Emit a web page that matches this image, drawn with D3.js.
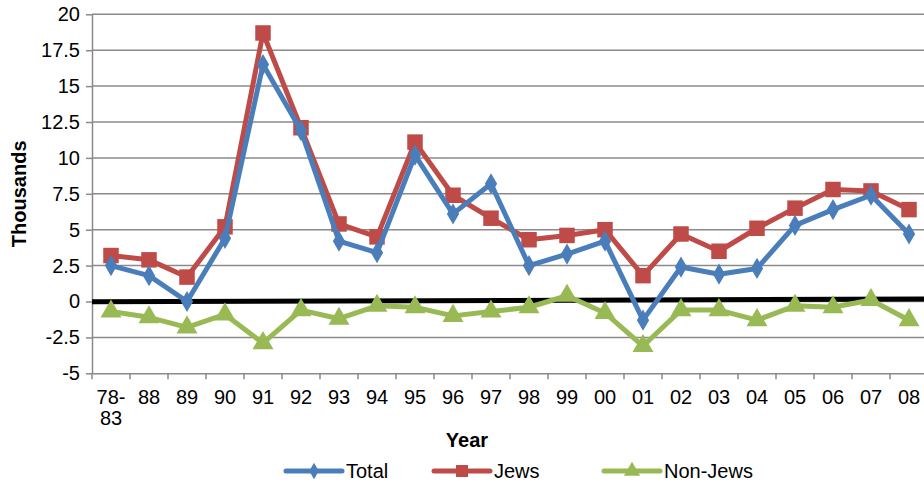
<!DOCTYPE html>
<html>
<head>
<meta charset="utf-8">
<script src="https://cdn.jsdelivr.net/npm/d3@7"></script>
<style>
  body { margin: 0; background: #fff; }
  svg { display: block; font-family: "Liberation Sans", Arial, sans-serif; }
</style>
</head>
<body>
<div id="chart"></div>
<script>
const years = ['78-83', '88', '89', '90', '91', '92', '93', '94', '95', '96', '97',
  '98', '99', '00', '01', '02', '03', '04', '05', '06', '07', '08'];
const total = [2.5, 1.8, 0.0, 4.4, 16.5, 11.9, 4.2, 3.4, 10.2, 6.1, 8.2,
  2.5, 3.3, 4.2, -1.3, 2.4, 1.9, 2.3, 5.3, 6.4, 7.4, 4.7];
const jews = [3.2, 2.9, 1.7, 5.2, 18.7, 12.1, 5.4, 4.5, 11.1, 7.4, 5.8,
  4.3, 4.6, 5.0, 1.8, 4.7, 3.5, 5.1, 6.5, 7.8, 7.7, 6.4];
const nonJews = [-0.7, -1.1, -1.8, -0.9, -2.9, -0.6, -1.2, -0.3, -0.4, -1.0, -0.7,
  -0.4, 0.4, -0.8, -3.1, -0.6, -0.6, -1.3, -0.3, -0.4, 0.1, -1.3];
const yTicks = [-5, -2.5, 0, 2.5, 5, 7.5, 10, 12.5, 15, 17.5, 20];
const zeroLine = [-0.02, 0.17]; // hand-drawn baseline, slightly tilted

const series = [
  { name: 'Total', values: total, color: '#4a7ebb', symbol: d3.symbolDiamond, size: 130 },
  { name: 'Jews', values: jews, color: '#be4b48', symbol: d3.symbolSquare, size: 240 },
  { name: 'Non-Jews', values: nonJews, color: '#98b954', symbol: d3.symbolTriangle, size: 190 }
];

const W = 924, H = 483;
const plotLeft = 92, plotTop = 14.3, plotBottom = 373.3;
const font = '"Liberation Sans", Arial, sans-serif';

const svg = d3.select('#chart').append('svg')
  .attr('width', W).attr('height', H);

const x = d3.scaleBand().domain(years).range([plotLeft, plotLeft + 38 * years.length]).padding(0);
const y = d3.scaleLinear().domain([-5, 20]).range([plotBottom, plotTop]);
const cx = d => x(d) + x.bandwidth() / 2;

// gridlines
svg.append('g').selectAll('line')
  .data(yTicks.filter(t => t !== -5))
  .join('line')
  .attr('x1', plotLeft).attr('x2', W)
  .attr('y1', d => y(d)).attr('y2', d => y(d))
  .attr('stroke', '#8a8a8a').attr('stroke-width', 1.5);

// y axis
const yAxis = svg.append('g')
  .attr('transform', `translate(${plotLeft},0)`)
  .call(d3.axisLeft(y).tickValues(yTicks).tickSize(6).tickSizeOuter(0)
    .tickFormat(d => String(d)));
yAxis.select('.domain').attr('stroke', '#8a8a8a').attr('stroke-width', 1.5);
yAxis.selectAll('.tick line').attr('stroke', '#8a8a8a').attr('stroke-width', 1.5);
yAxis.selectAll('.tick text')
  .attr('x', -12).attr('font-size', 20).attr('fill', '#000')
  .attr('font-family', font);

// x axis
const xAxis = svg.append('g')
  .attr('transform', `translate(0,${plotBottom})`)
  .call(d3.axisBottom(x).tickSize(0).tickSizeOuter(0));
xAxis.select('.domain').attr('stroke', '#8a8a8a').attr('stroke-width', 1.5);
xAxis.selectAll('.tick text').remove();
xAxis.selectAll('.tick').each(function (d) {
  const parts = d.includes('-') ? [d.split('-')[0] + '-', d.split('-')[1]] : [d];
  const t = d3.select(this).append('text')
    .attr('text-anchor', 'middle').attr('fill', '#000')
    .attr('font-size', 20).attr('font-family', font);
  parts.forEach((p, i) => t.append('tspan').attr('x', 0).attr('y', 31 + i * 21).text(p));
});
// category separator ticks
svg.append('g').selectAll('line')
  .data(years)
  .join('line')
  .attr('x1', d => x(d)).attr('x2', d => x(d))
  .attr('y1', plotBottom).attr('y2', plotBottom + 6)
  .attr('stroke', '#8a8a8a').attr('stroke-width', 1.5);

// thick zero line
svg.append('line')
  .attr('x1', plotLeft).attr('x2', W)
  .attr('y1', y(zeroLine[0])).attr('y2', y(zeroLine[1]))
  .attr('stroke', '#000').attr('stroke-width', 5);

// series
const line = d3.line().x((d, i) => cx(years[i])).y(d => y(d));
series.slice().reverse().forEach(s => {
  const g = svg.append('g');
  g.append('path')
    .attr('d', line(s.values))
    .attr('fill', 'none').attr('stroke', s.color)
    .attr('stroke-width', 5).attr('stroke-linejoin', 'round');
  g.selectAll('path.m')
    .data(s.values)
    .join('path').attr('class', 'm')
    .attr('transform', (d, i) => `translate(${cx(years[i])},${y(d)})`)
    .attr('d', d3.symbol().type(s.symbol).size(s.size))
    .attr('fill', s.color);
});

// axis titles
svg.append('text')
  .attr('transform', `translate(26,${(plotTop + plotBottom) / 2}) rotate(-90)`)
  .attr('text-anchor', 'middle')
  .attr('font-size', 20).attr('font-weight', 'bold')
  .text('Thousands');
svg.append('text')
  .attr('x', 467).attr('y', 447)
  .attr('text-anchor', 'middle')
  .attr('font-size', 20).attr('font-weight', 'bold')
  .text('Year');

// legend
const legendX = [286, 434, 604];
const legend = svg.append('g');
series.forEach((s, i) => {
  const g = legend.append('g').attr('transform', `translate(${legendX[i]},471)`);
  g.append('line').attr('x1', 0).attr('x2', 56)
    .attr('stroke', s.color).attr('stroke-width', 5).attr('stroke-linecap', 'round');
  g.append('path').attr('transform', 'translate(28,0)')
    .attr('d', d3.symbol().type(s.symbol).size(s.size * 0.6))
    .attr('fill', s.color);
  g.append('text').attr('x', 60).attr('y', 7)
    .attr('font-size', 20).text(s.name);
});
</script>
</body>
</html>
